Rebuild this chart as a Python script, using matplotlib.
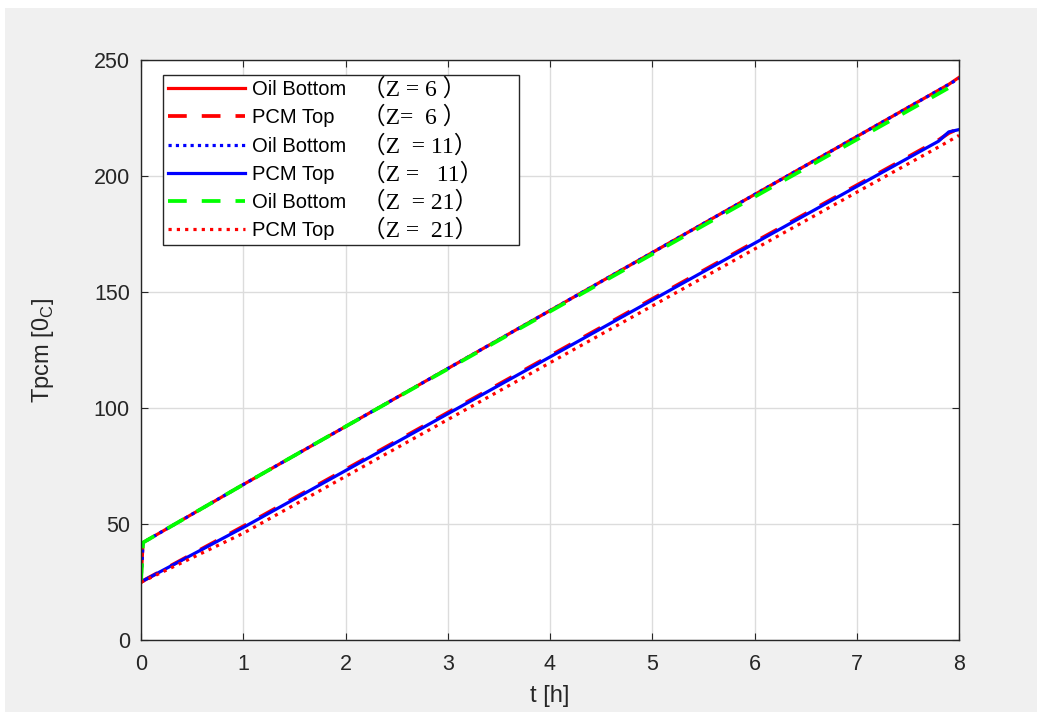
import matplotlib
matplotlib.use("Agg")
import matplotlib.pyplot as plt
from matplotlib.patches import Rectangle

# ---- data ----
t = [0, 0.02, 1, 2, 3, 4, 5, 6, 7, 7.8, 7.9, 8]
oil_z6 = [25, 42, 67, 92, 117, 142, 167, 192, 217, 237, 239.5, 242.5]
pcm_z6 = [25, 25.5, 49, 73.5, 98, 122.5, 147, 171.5, 196, 215.5, 218.5, 220.5]
oil_z11 = [25, 42, 67, 92, 117, 142, 167, 192, 217, 237, 239.5, 242]
pcm_z11 = [25, 25.5, 48.5, 73, 97.5, 122, 146.5, 171, 195.5, 215, 219, 220]
oil_z21 = [25, 42, 67, 92, 116.8, 141.6, 166.3, 191, 215.7, 235.5, 238, 240.5]
pcm_z21 = [25, 25.3, 46, 70.5, 95, 119.5, 144, 168.5, 193, 212.5, 215, 217.5]

labels = ["Oil Bottom", "PCM Top", "Oil Bottom", "PCM Top", "Oil Bottom", "PCM Top"]
zlabels = ["（Z = 6 ）", "（Z=  6 ）", "（Z  = 11）", "（Z =   11）", "（Z  = 21）", "（Z =  21）"]
xticks = [0, 1, 2, 3, 4, 5, 6, 7, 8]
yticks = [0, 50, 100, 150, 200, 250]

W, H = 1037, 717
fig = plt.figure(figsize=(W / 100, H / 100), dpi=100, facecolor="white")
fig.patches.append(Rectangle((5 / W, 5 / H), 1, 1 - 13 / H, transform=fig.transFigure,
                             facecolor="#f0f0f0", edgecolor="none", zorder=-10))

ax = fig.add_axes([141 / W, 1 - 640 / H, (959 - 141) / W, (640 - 60) / H])
ax.set_facecolor("white")

lw = 2.3
ax.plot(t, oil_z6, color="#ff0000", ls="-", lw=lw, label=labels[0])
ax.plot(t, pcm_z6, color="#ff0000", ls=(0, (5, 4)), lw=lw + 0.4, label=labels[1])
ax.plot(t, oil_z11, color="#0000ff", ls=(0, (1, 1.3)), lw=lw, label=labels[2])
ax.plot(t, pcm_z11, color="#0000ff", ls="-", lw=lw, label=labels[3])
ax.plot(t, oil_z21, color="#00ff00", ls=(0, (5, 4)), lw=lw + 0.4, label=labels[4])
ax.plot(t, pcm_z21, color="#ff0000", ls=(0, (1, 1.6)), lw=lw, label=labels[5])

ax.set_xlim(0, 8)
ax.set_ylim(0, 250)
ax.set_xticks(xticks)
ax.set_yticks(yticks)
tc = "#262626"
ax.tick_params(axis="both", direction="in", top=True, right=True, labelsize=15.5,
               colors=tc, length=5, width=0.8)
ax.tick_params(axis="x", pad=10)
ax.tick_params(axis="y", pad=8)
for lab in ax.get_xticklabels() + ax.get_yticklabels():
    lab.set_fontfamily("Liberation Sans")
for s in ax.spines.values():
    s.set_color(tc)
    s.set_linewidth(1.0)
ax.grid(True, color="#dcdcdc", lw=1.0)
ax.set_axisbelow(True)

ax.set_xlabel("t [h]", fontsize=17, family="Liberation Sans", color=tc, labelpad=7)
ax.set_ylabel(r"Tpcm [0$_\mathregular{C}$]", fontsize=17, family="Liberation Sans",
              color=tc, labelpad=27)

leg = ax.legend(loc="upper left", bbox_to_anchor=(0.027, 0.681, 0.435, 0.293),
                mode="expand", prop={"family": "Liberation Sans", "size": 14.5},
                handlelength=3.8, handletextpad=0.35, labelspacing=0.46,
                borderpad=0.25, borderaxespad=0, fancybox=False, framealpha=1,
                edgecolor=tc)
leg.get_frame().set_linewidth(1.0)

fig.canvas.draw()
r = fig.canvas.get_renderer()
for txt, zl in zip(leg.get_texts(), zlabels):
    bb = txt.get_window_extent(r)
    yc = (bb.y0 + bb.y1) / 2
    fig.text(362 / W, yc / H, zl, ha="left", va="center", fontsize=17,
             family=["Liberation Serif", "Noto Sans CJK SC"], color="black")

fig.savefig("out.png", dpi=100, facecolor=fig.get_facecolor())
